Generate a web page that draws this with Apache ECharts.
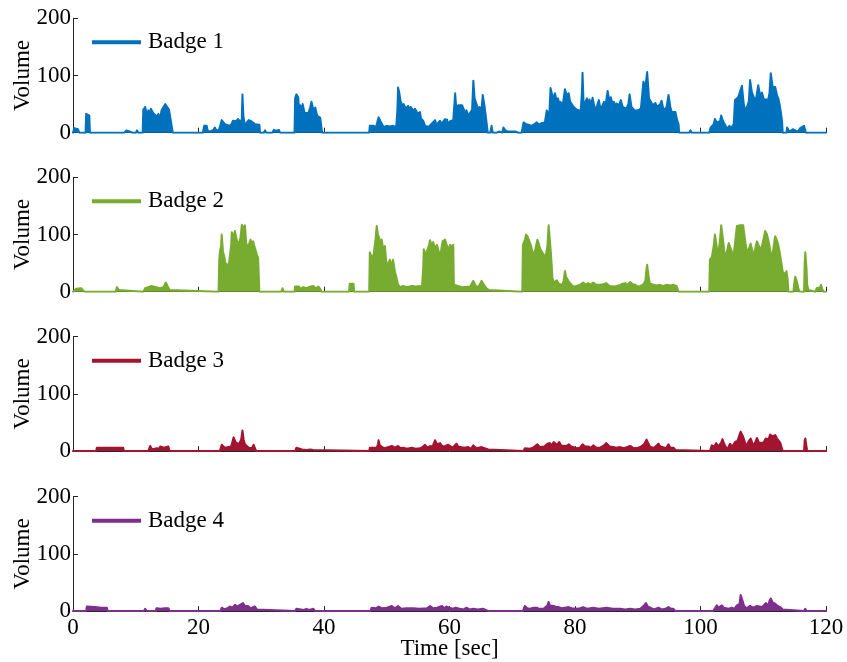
<!DOCTYPE html>
<html>
<head>
<meta charset="utf-8">
<script src="https://cdn.jsdelivr.net/npm/echarts@6/dist/echarts.min.js"></script>
<style>
  html, body { margin: 0; padding: 0; background: #fff; }
  #chart { width: 847px; height: 662px; }
</style>
</head>
<body>
<div id="chart"></div>
<script>
// Sound volume recorded by four badges, [time in seconds, volume]
const badgeNames = ['Badge 1', 'Badge 2', 'Badge 3', 'Badge 4'];
const badgeColors = ['#0072BD', '#77AC30', '#A2142F', '#7E2F8E'];
const xTicks = [0, 20, 40, 60, 80, 100, 120];
const yTicks = [0, 100, 200];

const badge1 = [
  [0,0],[0.2,8],[0.5,10],[0.8,6],[1.0,0],
  [2.0,0],[2.1,33],[2.4,36],[2.6,30],[2.7,0],
  [6.6,0],[6.9,3],[7.2,0],[8.2,0],[8.5,4],[9.0,2],[9.3,5],[9.5,0],[10.0,0],[10.2,4],[10.4,0],
  [11.1,0],[11.2,40],[11.5,45],[11.8,30],[12.0,39],[12.2,30],[12.4,42],[12.8,34],[13.1,36],[13.4,28],[13.6,33],[13.9,24],[14.1,39],[14.4,42],[14.7,50],[15.0,48],[15.3,40],[15.5,27],[15.7,26],[15.9,0],
  [20.7,0],[20.9,12],[21.3,12],[21.5,2],[22.0,3],[22.4,5],[22.6,9],[22.9,3],[23.3,6],[23.7,22],[24.0,20],[24.2,15],[24.5,15],[25.0,12],[25.3,16],[25.5,21],[26.0,20],[26.3,24],[26.7,18],[26.9,24],[27.0,67],[27.15,30],[27.4,12],[27.7,18],[28.0,22],[28.4,20],[28.7,22],[29.0,15],[29.3,15],[29.7,14],[29.8,0],
  [30.4,0],[30.6,4],[30.8,0],[31.8,0],[32.0,5],[32.4,3],[32.8,5],[33.0,0],
  [35.3,0],[35.4,60],[35.6,67],[35.9,62],[36.05,30],[36.2,48],[36.4,40],[36.6,50],[36.9,35],[37.2,36],[37.5,34],[37.8,44],[38.0,54],[38.3,40],[38.6,44],[38.9,30],[39.1,28],[39.4,26],[39.6,27],[39.7,0],
  [43.9,0],[44.1,3],[44.3,0],
  [47.2,0],[47.3,12],[47.9,12],[48.3,10],[48.7,27],[49.0,20],[49.2,21],[49.5,10],[50.0,12],[50.5,11],[51.0,12],[51.5,10],[51.7,40],[51.8,79],[52.0,70],[52.2,55],[52.4,57],[52.55,46],[52.7,50],[52.9,51],[53.05,42],[53.2,45],[53.4,47],[53.6,40],[53.8,45],[54.1,48],[54.3,38],[54.5,42],[54.8,40],[54.95,33],[55.1,36],[55.3,36],[55.45,25],[55.6,22],[55.8,21],[56.1,12],[56.4,12],[56.7,10],[57.0,14],[57.3,12],[57.7,22],[57.9,14],[58.1,16],[58.5,21],[58.7,15],[58.9,18],[59.3,24],[59.45,17],[59.6,23],[59.8,15],[60.1,20],[60.4,23],[60.6,22],[60.8,20],
  [60.9,69],[61.1,40],[61.4,48],[61.7,45],[62.0,48],[62.2,51],[62.5,35],[62.7,39],[63.0,30],[63.3,27],[63.6,40],[63.8,91],[64.0,60],[64.3,57],[64.6,40],[64.8,45],[65.1,40],[65.3,66],[65.6,45],[65.9,42],[66.1,0],
  [66.5,0],[66.7,12],[66.9,0],[67.5,0],[68.0,2],[68.4,0],[68.6,9],[68.9,4],[69.3,2],[70.5,2],[71.0,0],
  [71.5,0],[71.8,18],[72.2,15],[72.6,14],[73.0,12],[73.4,14],[73.9,18],[74.3,14],[74.7,17],[75.2,18],[75.5,39],[75.9,30],[76.1,78],[76.5,60],[76.8,69],[77.1,55],[77.3,60],[77.5,50],[77.7,54],[78.0,45],[78.4,76],[78.7,65],[79.0,69],[79.2,55],[79.5,57],[79.8,45],[80.0,48],[80.3,40],[80.5,39],[80.9,38],[81.1,70],[81.2,105],[81.4,40],[81.7,55],[81.9,60],[82.1,50],[82.3,58],[82.6,50],[82.8,61],[83.1,45],[83.3,39],[83.6,50],[83.8,57],[84.1,40],[84.4,39],[84.6,54],[84.9,50],[85.2,73],[85.5,55],[85.7,62],[86.0,50],[86.2,54],[86.4,45],[86.6,51],[87.0,48],[87.3,57],[87.6,45],[87.8,48],[88.2,42],[88.5,50],[88.7,67],[89.0,45],[89.3,48],[89.6,38],[90.1,40],[90.5,42],[90.9,89],[91.2,80],[91.5,106],[91.8,60],[92.1,54],[92.4,48],[92.8,52],[93.1,45],[93.3,48],[93.6,50],[93.8,56],[94.0,45],[94.2,39],[94.6,45],[94.9,66],[95.2,45],[95.4,36],[95.7,38],[96.0,36],[96.3,21],[96.5,15],[96.6,0],
  [98.2,0],[98.4,4],[98.6,0],
  [101.4,0],[101.6,9],[101.9,9],[102.1,15],[102.3,24],[102.6,18],[102.9,15],[103.1,20],[103.3,30],[103.6,20],[103.8,21],[104.0,12],[104.2,7],[104.4,8],[104.6,12],[104.9,8],[105.1,11],[105.3,15],[105.5,57],[105.8,55],[106.0,62],[106.3,60],[106.6,82],[106.9,50],[107.1,40],[107.4,45],[107.7,55],[107.9,92],[108.2,70],[108.5,62],[108.8,55],[109.2,83],[109.5,65],[109.8,70],[110.1,58],[110.4,60],[110.8,58],[111.0,70],[111.2,104],[111.5,80],[111.9,80],[112.2,65],[112.4,60],[112.6,50],[112.8,36],[113.0,20],[113.1,0],
  [113.7,0],[113.8,9],[114.0,9],[114.2,2],[114.5,3],[114.7,6],[114.9,3],[115.5,2],[115.9,8],[116.2,10],[116.5,12],[116.7,15],[116.8,0],[120,0]
];

const badge2 = [
  [0,0],[0.5,5],[0.8,6],[1.3,6],[1.6,3],[1.8,0],
  [6.8,0],[7.0,8],[7.3,3],[7.6,0],
  [11.2,0],[11.5,6],[12.0,8],[12.5,10],[12.8,7],[13.3,8],[13.8,6],[14.4,8],[14.8,16],[15.1,9],[15.4,3],[15.7,0],
  [23.2,0],[23.3,55],[23.4,69],[23.6,80],[23.7,100],[23.9,70],[24.1,62],[24.3,50],[24.5,47],[24.8,45],[25.0,47],[25.2,80],[25.3,104],[25.6,95],[25.8,106],[26.1,90],[26.4,82],[26.7,95],[26.9,117],[27.2,110],[27.4,116],[27.6,85],[27.9,77],[28.1,85],[28.3,91],[28.5,80],[28.7,88],[28.9,80],[29.1,77],[29.3,65],[29.5,59],[29.7,0],
  [33.2,0],[33.4,6],[33.6,0],[35.3,0],[35.4,9],[35.7,7],[36.0,9],[36.3,5],[36.7,8],[37.2,6],[37.8,9],[38.0,7],[38.3,10],[38.7,6],[39.1,9],[39.4,5],[39.6,0],
  [44.0,0],[44.1,14],[44.7,14],[44.8,0],
  [47.2,0],[47.3,69],[47.6,60],[47.9,65],[48.2,90],[48.4,115],[48.6,100],[48.8,94],[49.0,85],[49.2,91],[49.5,70],[49.7,80],[49.9,55],[50.1,44],[50.3,50],[50.5,56],[50.8,45],[51.0,56],[51.3,35],[51.5,27],[51.8,12],[52.2,8],[52.6,10],[53.2,8],[54.0,10],[54.7,9],[55.3,10],[55.6,6],
  [55.8,40],[55.9,74],[56.2,65],[56.4,71],[56.7,80],[56.9,90],[57.2,80],[57.4,87],[57.7,75],[58.0,82],[58.3,70],[58.5,56],[58.7,75],[58.9,88],[59.1,85],[59.3,91],[59.6,80],[59.8,74],[60.1,82],[60.4,78],[60.6,82],[60.7,12],[61.0,9],[62.0,8],[63.3,9],[63.6,12],[63.8,19],[64.1,12],[64.3,8],[64.7,10],[65.1,19],[65.5,12],[65.9,6],[66.3,3],[66.4,0],
  [71.6,0],[71.7,82],[72.0,90],[72.2,100],[72.5,95],[72.7,94],[73.0,80],[73.4,62],[73.7,75],[74.0,91],[74.2,85],[74.4,77],[74.7,70],[75.0,71],[75.3,60],[75.6,80],[75.8,116],[76.0,90],[76.2,62],[76.4,25],[76.6,16],[76.9,15],[77.1,20],[77.4,14],[77.6,15],[78.0,12],[78.2,20],[78.4,36],[78.6,25],[79.0,18],[79.3,14],[79.7,9],[80.2,10],[80.8,12],[81.3,16],[81.7,12],[82.1,15],[82.5,12],[82.9,16],[83.4,12],[84.0,12],[84.5,13],[85.0,15],[85.5,10],[86.1,9],[86.6,10],[87.2,12],[87.6,14],[88.0,15],[88.4,12],[88.8,17],[89.2,13],[89.6,12],[90.0,9],[90.4,10],[90.8,12],[91.2,18],[91.4,40],[91.5,47],[91.7,30],[91.9,15],[92.5,12],[93.0,11],[93.5,12],[94.0,10],[94.6,12],[95.2,11],[95.7,12],[96.2,10],[96.5,0],
  [101.4,0],[101.5,56],[101.8,60],[102.1,80],[102.3,100],[102.5,85],[102.8,63],[103.1,90],[103.3,116],[103.6,90],[103.9,59],[104.2,70],[104.5,85],[104.7,88],[105.0,70],[105.2,56],[105.5,85],[105.8,115],[106.1,112],[106.3,116],[106.6,114],[106.8,116],[107.1,90],[107.4,68],[107.7,75],[108.0,84],[108.3,70],[108.5,62],[108.8,80],[109.0,88],[109.3,80],[109.5,74],[109.8,80],[110.1,95],[110.3,106],[110.6,100],[110.8,97],[111.0,80],[111.3,56],[111.6,75],[111.9,97],[112.1,92],[112.4,82],[112.6,70],[112.9,50],[113.1,35],[113.2,33],[113.5,30],[113.7,36],[113.9,20],[114.0,0],
  [114.8,0],[115.0,20],[115.1,26],[115.3,20],[115.6,6],[115.8,0],
  [116.5,0],[116.6,50],[116.7,69],[116.9,40],[117.0,12],[117.2,3],[117.4,0],
  [118.3,0],[118.5,6],[118.8,3],[119.1,8],[119.2,12],[119.4,5],[119.6,0],[120,0]
];

const badge3 = [
  [0,0],[3.7,0],[3.8,6],[8.0,6],[8.1,0],
  [12.0,0],[12.3,9],[12.6,3],[13.3,5],[13.7,4],[13.9,8],[14.5,6],[15.2,8],[15.4,0],
  [23.4,0],[23.7,11],[24.0,8],[24.2,6],[24.5,3],[25.2,8],[25.6,24],[25.9,16],[26.1,14],[26.4,12],[26.6,15],[26.8,20],[27.0,36],[27.2,20],[27.4,12],[27.7,11],[28.0,6],[28.2,8],[28.5,5],[28.8,11],[29.0,5],[29.2,0],
  [35.4,0],[35.6,6],[35.9,3],[36.5,3],[36.7,4],[37.2,2],[37.8,3],[38.0,5],[38.3,2],[38.6,0],
  [47.2,0],[47.3,6],[48.4,6],[48.6,12],[48.7,19],[48.9,10],[49.2,8],[49.6,5],[50.2,7],[50.8,9],[51.3,6],[51.8,9],[52.2,5],[52.6,6],[53.2,4],[54.0,6],[54.6,4],[55.3,5],[55.7,7],[56.1,11],[56.5,6],[56.9,9],[57.3,8],[57.7,19],[58.0,12],[58.5,14],[58.9,8],[59.3,9],[59.8,11],[60.1,8],[60.5,6],[61.1,13],[61.4,8],[61.7,7],[62.3,6],[63.0,7],[63.4,4],[63.8,10],[64.3,5],[65.1,7],[65.6,5],[66.2,3],[66.4,0],
  [71.8,0],[72.0,5],[72.3,8],[72.8,4],[73.3,6],[74.0,12],[74.4,7],[74.7,6],[75.1,8],[75.6,13],[76.0,14],[76.3,10],[76.6,16],[77.1,11],[77.5,16],[77.8,10],[78.1,10],[78.6,9],[79.0,12],[79.4,8],[79.7,7],[80.3,5],[80.8,6],[81.2,12],[81.6,8],[82.1,8],[82.5,6],[82.9,10],[83.4,6],[84.0,6],[84.5,9],[85.0,14],[85.5,8],[86.1,7],[86.6,6],[87.2,7],[87.8,5],[88.8,9],[89.4,5],[90.0,6],[90.4,7],[91.0,12],[91.4,20],[91.7,18],[92.0,7],[92.6,6],[93.3,13],[93.6,8],[94.0,7],[94.5,5],[94.9,12],[95.2,6],[95.7,6],[96.0,2],[96.3,0],
  [101.5,0],[101.8,10],[102.2,8],[102.5,14],[102.8,8],[103.0,6],[103.3,15],[103.5,21],[103.8,12],[104.2,4],[104.5,8],[104.7,13],[105.0,8],[105.3,12],[105.5,16],[105.9,18],[106.2,28],[106.4,34],[106.6,36],[106.8,25],[106.9,22],[107.3,8],[107.7,18],[108.0,22],[108.4,10],[108.7,15],[109.0,23],[109.3,15],[109.5,14],[109.9,14],[110.2,18],[110.4,22],[110.8,20],[111.1,29],[111.5,26],[111.9,28],[112.2,22],[112.4,19],[112.7,15],[112.9,13],[113.1,0],
  [116.5,0],[116.6,18],[116.7,22],[116.9,20],[117.0,0],[120,0]
];

const badge4 = [
  [0,0],[2.1,0],[2.2,8],[3.5,7],[4.5,6],[5.4,6],[5.5,0],
  [11.3,0],[11.5,4],[11.8,0],[13.2,0],[13.3,5],[14.0,4],[14.6,5],[15.2,5],[15.4,0],
  [23.5,0],[23.7,6],[24.1,3],[24.6,5],[25.0,8],[25.4,6],[25.8,11],[26.2,8],[26.6,11],[26.9,10],[27.1,14],[27.4,9],[27.9,9],[28.3,5],[29.0,8],[29.3,3],[29.6,0],
  [35.4,0],[35.6,4],[35.9,2],[36.8,2],[37.2,4],[37.6,2],[38.3,4],[38.6,0],
  [47.4,0],[47.6,6],[48.3,5],[48.7,8],[49.2,5],[50.0,6],[50.8,9],[51.3,5],[51.8,9],[52.3,4],[53.2,5],[54.2,5],[55.2,4],[56.4,5],[56.9,9],[57.4,5],[58.0,6],[58.8,9],[59.1,5],[59.5,8],[60.0,6],[60.5,4],[61.0,6],[61.6,4],[62.3,3],[62.7,6],[63.2,3],[63.8,4],[64.5,3],[65.3,4],[65.8,2],[66.2,0],
  [71.7,0],[72.0,9],[72.4,5],[72.9,4],[73.4,6],[73.9,6],[74.3,4],[75.0,4],[75.6,10],[75.8,16],[76.0,10],[76.6,9],[77.0,7],[77.4,7],[77.9,5],[78.4,6],[79.0,7],[79.5,5],[80.2,4],[80.8,5],[81.3,7],[82.0,4],[82.9,6],[83.8,4],[85.0,6],[86.0,4],[87.2,4],[88.0,3],[88.8,4],[89.6,3],[90.4,4],[91.0,10],[91.3,14],[91.6,8],[92.0,6],[92.6,3],[93.3,6],[93.8,3],[94.4,4],[94.9,7],[95.3,4],[95.7,4],[96.0,0],
  [102.0,0],[102.3,5],[102.6,10],[102.9,6],[103.2,5],[103.4,10],[103.7,6],[103.9,3],[104.5,4],[105.0,6],[105.4,4],[105.8,10],[106.2,12],[106.4,28],[106.6,29],[106.8,15],[106.9,10],[107.3,5],[107.9,9],[108.4,6],[109.0,9],[109.4,8],[109.8,7],[110.1,10],[110.4,14],[110.8,10],[111.0,18],[111.2,22],[111.5,15],[111.9,13],[112.3,9],[112.7,7],[113.1,3],[113.4,0],
  [116.5,0],[116.7,4],[116.9,0],[120,0]
];

const badgeData = [badge1, badge2, badge3, badge4];

const FONT = '"Liberation Serif", "DejaVu Serif", serif';
const FONT_SIZE = 23;
const gridTops = [18.3, 177.3, 336.7, 496.7];
const gridHeight = 114.4;

const axisLine = { show: true, lineStyle: { color: '#262626', width: 1 } };
const axisTick = { show: true, inside: true, length: 5, lineStyle: { color: '#262626', width: 1 } };

const option = {
  animation: false,
  backgroundColor: '#ffffff',
  grid: gridTops.map(top => ({
    left: 73, right: 21, top: top, height: gridHeight,
    containLabel: false, outerBoundsMode: 'none'
  })),
  legend: badgeNames.map((name, i) => ({
    data: [name],
    left: 87,
    top: gridTops[i] + 7.5,
    icon: 'rect',
    itemWidth: 49,
    itemHeight: 4,
    itemGap: 0,
    textStyle: { fontFamily: FONT, fontSize: FONT_SIZE, color: '#000', padding: [0, 0, 0, 2] },
    selectedMode: false
  })),
  xAxis: gridTops.map((t, i) => ({
    type: 'value',
    gridIndex: i,
    min: 0,
    max: 120,
    interval: 20,
    axisLine: axisLine,
    axisTick: axisTick,
    splitLine: { show: false },
    axisLabel: {
      show: i === 3,
      fontFamily: FONT,
      fontSize: FONT_SIZE,
      color: '#000',
      margin: 5,
      customValues: xTicks
    },
    name: i === 3 ? 'Time [sec]' : '',
    nameLocation: 'middle',
    nameGap: 26,
    nameMoveOverlap: false,
    nameTextStyle: { fontFamily: FONT, fontSize: FONT_SIZE, color: '#000' }
  })),
  yAxis: gridTops.map((t, i) => ({
    type: 'value',
    gridIndex: i,
    min: 0,
    max: 200,
    interval: 100,
    axisLine: axisLine,
    axisTick: axisTick,
    splitLine: { show: false },
    axisLabel: { fontFamily: FONT, fontSize: FONT_SIZE, color: '#000', margin: 2, customValues: yTicks },
    name: 'Volume',
    nameLocation: 'middle',
    nameGap: 39,
    nameMoveOverlap: false,
    nameRotate: 90,
    nameTextStyle: { fontFamily: FONT, fontSize: FONT_SIZE, color: '#000' }
  })),
  series: badgeData.map((data, i) => ({
    name: badgeNames[i],
    type: 'line',
    xAxisIndex: i,
    yAxisIndex: i,
    data: data,
    showSymbol: false,
    symbol: 'none',
    color: badgeColors[i],
    lineStyle: { color: badgeColors[i], width: 2, cap: 'round', join: 'round' },
    areaStyle: { color: badgeColors[i], opacity: 1 },
    z: 3
  }))
};

const chart = echarts.init(document.getElementById('chart'), null, { renderer: 'canvas' });
chart.setOption(option);
</script>
</body>
</html>
